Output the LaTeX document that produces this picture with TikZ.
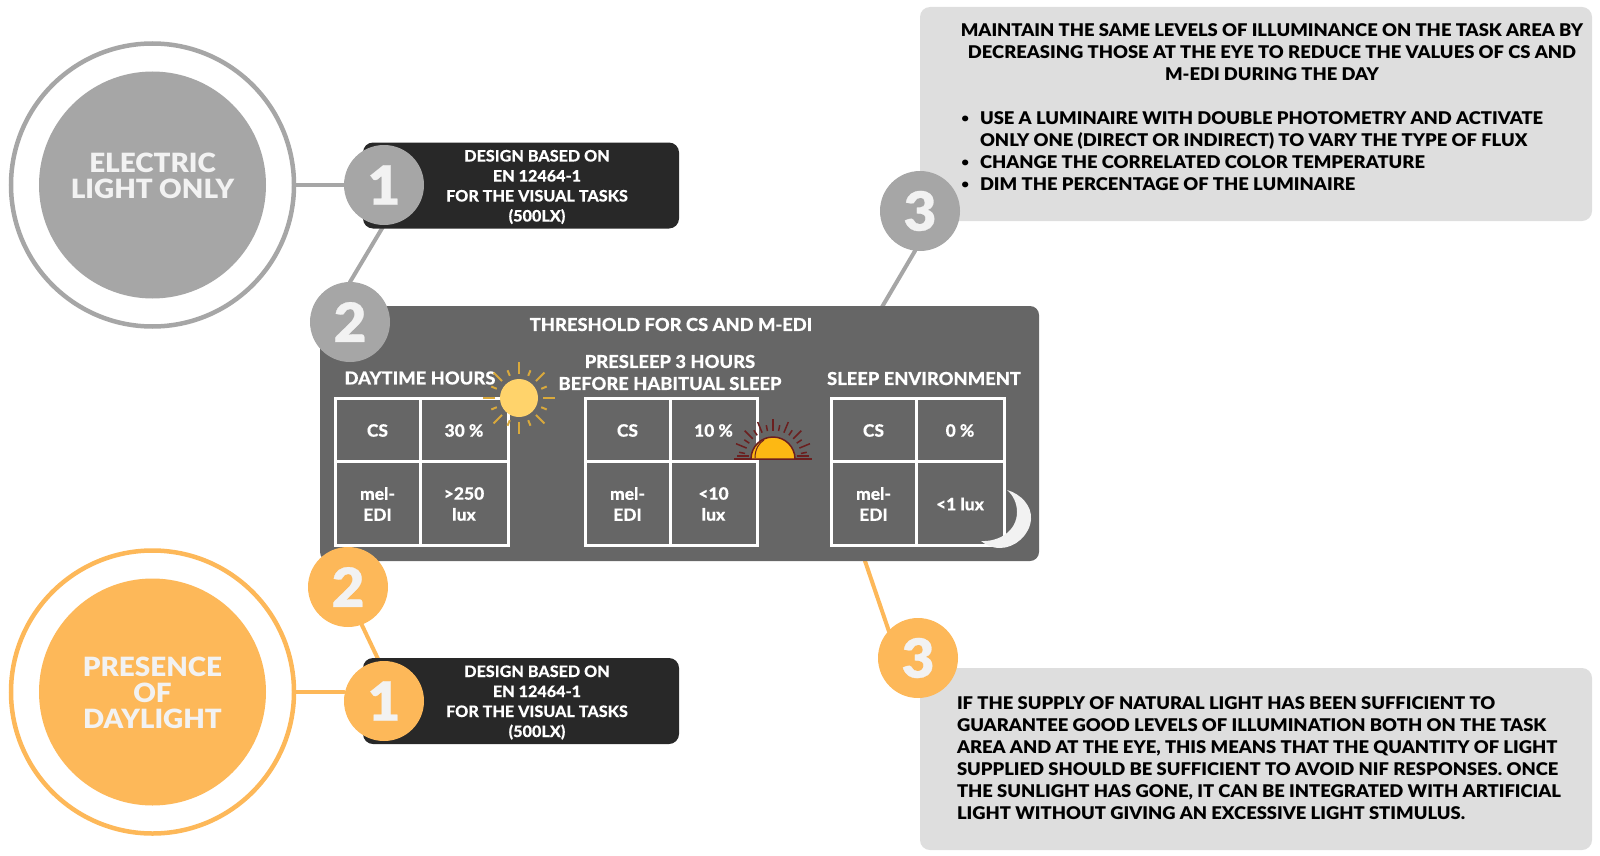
\documentclass[tikz,border=0pt]{standalone}
\usepackage{fontspec}
\setmainfont{Lato}
\newfontfamily\hvy{Lato Black}[FakeStretch=1.05]
\newfontfamily\numf{Lato Black}[FakeStretch=1.05,FakeBold=0.5]
\newfontfamily\hvm{Lato Heavy}[FakeStretch=1.025,FakeBold=0.15]
\pgfdeclarelayer{bg}
\pgfsetlayers{bg,main}
\definecolor{gc}{HTML}{A6A6A6}
\definecolor{oc}{HTML}{FDB859}
\definecolor{numc}{HTML}{F2F2F2}
\definecolor{darkbox}{HTML}{282828}
\definecolor{thrc}{HTML}{666666}
\definecolor{notec}{HTML}{DEDEDE}
\definecolor{sunc}{HTML}{FFD36B}
\definecolor{rayc}{HTML}{D9A93C}
\definecolor{halfc}{HTML}{FDB813}
\definecolor{maroon}{HTML}{6B1F1F}
\newcommand{\bul}{\llap{\raisebox{1.5pt}{\fontsize{12}{12}\selectfont\textbullet}\hspace{11pt}}}
\tikzset{
  x=1pt,y=-1pt,
  every node/.style={inner sep=0pt,outer sep=0pt},
  ring/.style={circle,draw=#1,fill=white,line width=4.5pt,minimum size=283pt},
  disc/.style={circle,fill=#1,minimum size=227pt},
  disctext/.style={text=numc,align=center,font=\fontsize{26.5}{25.7}\selectfont\hvy},
  numdisc/.style={circle,fill=#1,minimum size=80pt,text=numc,
    font=\fontsize{54}{54}\selectfont\numf},
  blackbox/.style={rectangle,rounded corners=10pt,fill=darkbox,minimum width=316pt,minimum height=86pt},
  boxtext/.style={text=white,align=center,font=\fontsize{15.8}{20}\selectfont\hvm},
  notebox/.style={rectangle,rounded corners=10pt,fill=notec,minimum width=672pt},
  notetext/.style={text=black,font=\fontsize{17.5}{21.9}\selectfont\hvy},
  head/.style={text=white,align=center,font=\fontsize{17.9}{22}\selectfont\hvm},
  cell/.style={rectangle,draw=white,line width=3pt,minimum width=#1},
  celltext/.style={text=white,align=center,font=\fontsize{17}{21}\selectfont\hvm},
  toprow/.style={minimum height=63pt},
  botrow/.style={minimum height=84pt},
  gline/.style={draw=gc,line width=4pt,line cap=round},
  oline/.style={draw=oc,line width=4pt,line cap=round},
}
% name, x, y, width, row style, text
\newcommand{\tcell}[6]{%
  \node[cell=#4,#5] (#1) at (#2,#3) {};
  \node[celltext] (#1t) at (#2,#3+1) {#6};}
\begin{document}
\begin{tikzpicture}
\useasboundingbox (0,0) rectangle (1600,856);
% boxes
\node[notebox,minimum height=214pt] (notetop) at (1256,114) {};
\node[notebox,minimum height=182pt] (notebot) at (1256,759) {};
\node[blackbox] (bb1) at (521,185.5) {};
\node[blackbox] (bb2) at (521,701) {};
\node[rectangle,rounded corners=9pt,fill=thrc,minimum width=719pt,minimum height=255pt] (thr) at (679.5,433.5) {};
% big circles
\node[ring=gc] (gring) at (152.5,185) {};
\node[disc=gc] (gdisc) at (152.5,185) {};
\node[disctext] (gtxt) at (152.5,176) {ELECTRIC\\LIGHT ONLY};
\node[ring=oc] (oring) at (152.5,692) {};
\node[disc=oc] (odisc) at (152.5,692) {};
\node[disctext] (otxt) at (152.5,693) {PRESENCE\\OF\\DAYLIGHT};
% numbered circles
\node[numdisc=gc] (g1) at (384,185) {1};
\node[numdisc=gc] (g2) at (350,322) {2};
\node[numdisc=gc] (g3) at (920,211) {3};
\node[numdisc=oc] (o1) at (384,701) {1};
\node[numdisc=oc] (o2) at (348,587) {2};
\node[numdisc=oc] (o3) at (918,658) {3};
% black box texts
\node[boxtext] (bt1) at (537,187) {DESIGN BASED ON\\EN 12464-1\\FOR THE VISUAL TASKS\\(500LX)};
\node[boxtext] (bt2) at (537,702.5) {DESIGN BASED ON\\EN 12464-1\\FOR THE VISUAL TASKS\\(500LX)};
% note texts
\node[notetext,align=center] (nt1) at (1272,52) {MAINTAIN THE SAME LEVELS OF ILLUMINANCE ON THE TASK AREA BY\\DECREASING THOSE AT THE EYE TO REDUCE THE VALUES OF CS AND\\M-EDI DURING THE DAY};
\node[notetext,align=left,anchor=north west] (nt2) at (980,111.5) {\bul USE A LUMINAIRE WITH DOUBLE PHOTOMETRY AND ACTIVATE\\ONLY ONE (DIRECT OR INDIRECT) TO VARY THE TYPE OF FLUX\\\bul CHANGE THE CORRELATED COLOR TEMPERATURE\\\bul DIM THE PERCENTAGE OF THE LUMINAIRE};
\node[notetext,align=left,anchor=north west] (nt3) at (957,697) {IF THE SUPPLY OF NATURAL LIGHT HAS BEEN SUFFICIENT TO\\GUARANTEE GOOD LEVELS OF ILLUMINATION BOTH ON THE TASK\\AREA AND AT THE EYE, THIS MEANS THAT THE QUANTITY OF LIGHT\\SUPPLIED SHOULD BE SUFFICIENT TO AVOID NIF RESPONSES. ONCE\\THE SUNLIGHT HAS GONE, IT CAN BE INTEGRATED WITH ARTIFICIAL\\LIGHT WITHOUT GIVING AN EXCESSIVE LIGHT STIMULUS.};
% headings
\node[head] (h0) at (671,324.5) {THRESHOLD FOR CS AND M-EDI};
\node[head] (h1) at (420,378) {DAYTIME HOURS};
\node[head] (h2) at (670,372.5) {PRESLEEP 3 HOURS\\BEFORE HABITUAL SLEEP};
\node[head] (h3) at (924,378.5) {SLEEP ENVIRONMENT};
% tables
\tcell{a11}{377.5}{429.5}{85pt}{toprow}{CS}
\tcell{a12}{464}{429.5}{88pt}{toprow}{30 \%}
\tcell{a21}{377.5}{503}{85pt}{botrow}{mel-\\EDI}
\tcell{a22}{464}{503}{88pt}{botrow}{>250\\lux}
\tcell{b11}{627.5}{429.5}{85pt}{toprow}{CS}
\tcell{b12}{713.5}{429.5}{87pt}{toprow}{10 \%}
\tcell{b21}{627.5}{503}{85pt}{botrow}{mel-\\EDI}
\tcell{b22}{713.5}{503}{87pt}{botrow}{<10\\lux}
\tcell{c11}{873.5}{429.5}{85pt}{toprow}{CS}
\tcell{c12}{960}{429.5}{88pt}{toprow}{0 \%}
\tcell{c21}{873.5}{503}{85pt}{botrow}{mel-\\EDI}
\tcell{c22}{960}{503}{88pt}{botrow}{<1 lux}
% connectors
\coordinate (thrg) at (882,307);
\coordinate (thro) at (865,561);
\begin{pgfonlayer}{bg}
\draw[gline] (gring.east) ++(1.5,0) -- (g1);
\draw[oline] (oring.east) ++(1.5,0) -- (o1.west |- oring.east);
\draw[gline] (g1.south) -- (g2.north);
\draw[gline] (g3.-97) -- (thrg);
\draw[oline] (o2.-70) -- (o1.97);
\draw[oline] (o3.137) -- (thro);
\end{pgfonlayer}
% sun
\foreach \a in {0,45,...,315}
  \draw[rayc,line width=2pt] (519,398) ++(\a:24) -- ++(\a:12);
\foreach \a in {22.5,67.5,...,337.5}
  \draw[rayc,line width=2pt] (519,398) ++(\a:24) -- ++(\a:6);
\fill[sunc] (519,398) circle[radius=19];
% half sun
\foreach \a in {22.5,45,67.5,90,112.5,135,157.5}
  \draw[maroon,line width=1.5pt] (773,459) ++(-\a:28.5) -- ++(-\a:11.5);
\foreach \a in {11.25,33.75,56.25,78.75,101.25,123.75,146.25,168.75}
  \draw[maroon,line width=1.5pt] (773,459) ++(-\a:28.5) -- ++(-\a:6);
\draw[maroon,line width=1.5pt] (734,459) -- (812,459);
\draw[maroon,line width=1.5pt] (737,456) -- (749,456) (797,456) -- (809,456);
\fill[halfc,draw=maroon,line width=1.5pt] (751,459) arc[start angle=180,end angle=360,radius=22] -- cycle;
\draw[maroon,line width=1pt] (755,458) .. controls (755,449) and (759,443) .. (764,440);
% moon
\fill[numc] (1007,490) .. controls (1021,494) and (1032,506) .. (1031,519)
  .. controls (1030,535) and (1015,548) .. (1000,548)
  .. controls (992,548) and (986,545) .. (981,541)
  .. controls (999,542) and (1017,531) .. (1017,512)
  .. controls (1017,503) and (1013,495) .. (1007,490) -- cycle;
\end{tikzpicture}
\end{document}
